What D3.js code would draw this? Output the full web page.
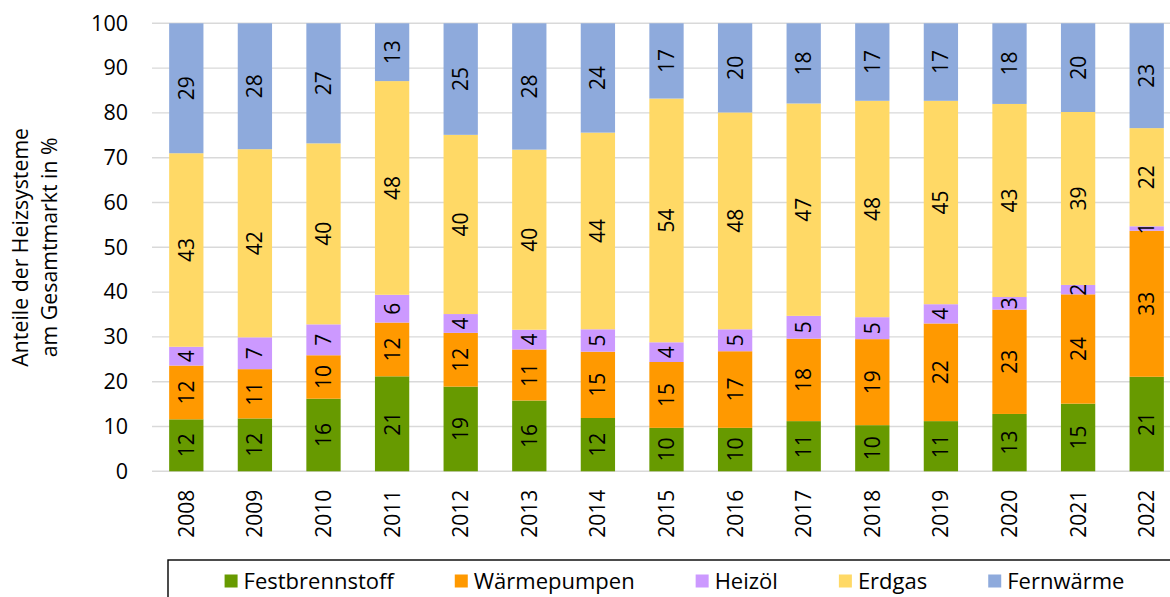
<!DOCTYPE html>
<html lang="de">
<head>
<meta charset="UTF-8">
<title>Anteile der Heizsysteme</title>
<script src="https://d3js.org/d3.v7.min.js"></script>
<style>
  body { margin: 0; background: #fff; }
  svg { display: block; font-family: "Open Sans", sans-serif; }
</style>
</head>
<body>
<div id="chart"></div>
<script>
// data (Anteile in %)
const years = ["2008","2009","2010","2011","2012","2013","2014","2015","2016","2017","2018","2019","2020","2021","2022"];
const festbrennstoff = [11.6, 11.8, 16.2, 21.2, 18.9, 15.8, 11.9, 9.7, 9.7, 11.2, 10.3, 11.2, 12.8, 15.1, 21.1];
const waermepumpen   = [12.0, 11.0, 9.7, 12.0, 12.0, 11.4, 14.8, 14.7, 17.1, 18.4, 19.2, 21.8, 23.3, 24.4, 32.6];
const heizoel        = [4.2, 7.1, 6.9, 6.2, 4.2, 4.4, 5.0, 4.4, 4.9, 5.1, 4.9, 4.3, 2.8, 2.1, 1.0];
const erdgas         = [43.2, 42.0, 40.4, 47.7, 40.0, 40.2, 43.9, 54.4, 48.4, 47.4, 48.3, 45.4, 43.1, 38.6, 21.9];
const fernwaerme     = [29.0, 28.1, 26.8, 12.9, 24.9, 28.2, 24.4, 16.8, 19.9, 17.9, 17.3, 17.3, 18.0, 19.8, 23.4];

const seriesNames = ["Festbrennstoff", "Wärmepumpen", "Heizöl", "Erdgas", "Fernwärme"];
const seriesColors = ["#679a00", "#ff9900", "#cc99ff", "#ffd966", "#8eaadc"];
const yTicks = [0, 10, 20, 30, 40, 50, 60, 70, 80, 90, 100];

const width = 1170, height = 597;
const plot = { left: 152, right: 1181, top: 23.3, bottom: 471.3 };

const table = years.map((y, i) => ({
  year: y,
  "Festbrennstoff": festbrennstoff[i],
  "Wärmepumpen": waermepumpen[i],
  "Heizöl": heizoel[i],
  "Erdgas": erdgas[i],
  "Fernwärme": fernwaerme[i]
}));

const svg = d3.select("#chart").append("svg")
  .attr("width", width)
  .attr("height", height);

const x = d3.scaleBand()
  .domain(years)
  .range([plot.left, plot.right])
  .paddingInner(0.5)
  .paddingOuter(0.25);

const y = d3.scaleLinear()
  .domain([0, 100])
  .range([plot.bottom, plot.top]);

const color = d3.scaleOrdinal().domain(seriesNames).range(seriesColors);

// gridlines
svg.append("g")
  .selectAll("line")
  .data(yTicks)
  .join("line")
    .attr("x1", plot.left)
    .attr("x2", plot.right)
    .attr("y1", d => y(d))
    .attr("y2", d => y(d))
    .attr("stroke", "#d9d9d9")
    .attr("stroke-width", 1.4);

// y axis labels
const yAxis = svg.append("g")
  .attr("transform", `translate(${plot.left},0)`)
  .call(d3.axisLeft(y).tickValues(yTicks).tickSize(0).tickPadding(24));
yAxis.select(".domain").remove();
yAxis.selectAll("text")
  .attr("font-family", "Open Sans")
  .attr("font-size", 21.5)
  .attr("fill", "#000");

// stacked bars
const stacked = d3.stack().keys(seriesNames)(table);

const layers = svg.append("g")
  .selectAll("g")
  .data(stacked)
  .join("g")
    .attr("fill", d => color(d.key));

layers.selectAll("rect")
  .data(d => d)
  .join("rect")
    .attr("x", d => x(d.data.year))
    .attr("width", x.bandwidth())
    .attr("y", d => y(d[1]))
    .attr("height", d => y(d[0]) - y(d[1]));

// value labels, rotated
const fmt = d3.format(".0f");
layers.selectAll("text")
  .data(d => d)
  .join("text")
    .attr("transform", d => `translate(${x(d.data.year) + x.bandwidth() / 2},${(y(d[0]) + y(d[1])) / 2}) rotate(-90)`)
    .attr("text-anchor", "middle")
    .attr("dy", "0.36em")
    .attr("font-size", 21)
    .attr("fill", "#000")
    .text(d => fmt(d[1] - d[0]));

// x axis (years)
const xAxis = svg.append("g")
  .attr("transform", `translate(0,${plot.bottom})`)
  .call(d3.axisBottom(x).tickSize(0));
xAxis.select(".domain").remove();
xAxis.selectAll("text")
  .attr("font-family", "Open Sans")
  .attr("font-size", 21)
  .attr("fill", "#000")
  .attr("transform", "rotate(-90)")
  .attr("x", -18.5)
  .attr("y", 0)
  .attr("dy", "0.36em")
  .attr("text-anchor", "end");

// y axis title
const title = svg.append("text")
  .attr("transform", `translate(0,${(plot.top + plot.bottom) / 2}) rotate(-90)`)
  .attr("text-anchor", "middle")
  .attr("font-size", 21.3)
  .attr("fill", "#000");
title.append("tspan").attr("x", 0).attr("y", 28).text("Anteile der Heizsysteme");
title.append("tspan").attr("x", 0).attr("y", 57).text("am Gesamtmarkt in %");

// legend
svg.append("rect")
  .attr("x", 168)
  .attr("y", 560)
  .attr("width", 1100)
  .attr("height", 80)
  .attr("fill", "none")
  .attr("stroke", "#000")
  .attr("stroke-width", 1.4);

const legend = svg.append("g");
const items = legend.selectAll("g")
  .data(seriesNames)
  .join("g");
items.append("rect")
  .attr("width", 13)
  .attr("height", 13)
  .attr("y", 574.5)
  .attr("fill", d => color(d));
items.append("text")
  .attr("x", 19)
  .attr("y", 588.5)
  .attr("font-size", 22)
  .attr("fill", "#000")
  .text(d => d);

let pos = 0;
const offsets = [];
items.each(function() {
  offsets.push(pos);
  pos += 19 + d3.select(this).select("text").node().getComputedTextLength() + 61;
});
const total = pos - 61;
const start = (168 + plot.right) / 2 - total / 2;
items.attr("transform", (d, i) => `translate(${start + offsets[i]},0)`);
</script>
</body>
</html>
